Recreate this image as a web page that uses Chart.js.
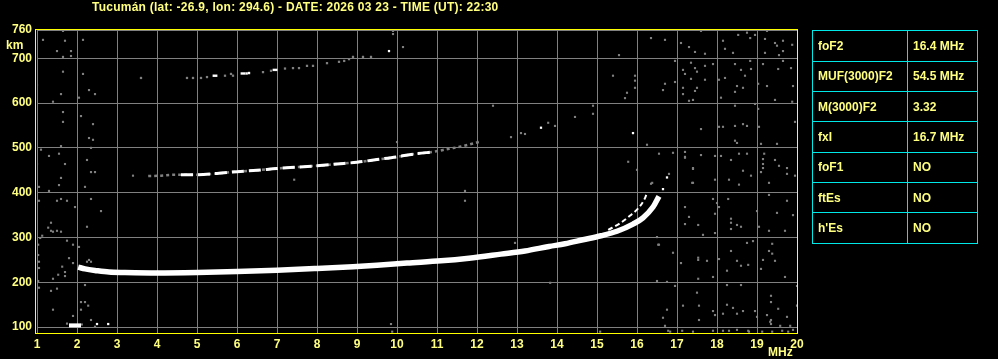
<!DOCTYPE html>
<html><head><meta charset="utf-8">
<script src="https://cdn.jsdelivr.net/npm/chart.js@4.4.0/dist/chart.umd.min.js"></script>
<style>
html,body{margin:0;padding:0;background:#000;width:998px;height:359px;overflow:hidden;}
#wrap{position:relative;width:998px;height:359px;background:#000;}
#c{position:absolute;left:0;top:0;}
.t{position:absolute;font-family:"Liberation Sans",Arial,sans-serif;font-weight:bold;font-size:12px;line-height:12px;color:#ffff80;white-space:nowrap;}
#tbl{position:absolute;left:812px;top:30px;width:166px;height:214px;box-sizing:border-box;border:1px solid #00e8e8;}
.hl{position:absolute;left:0;width:164px;height:1px;background:#00e8e8;}
.vl{position:absolute;left:94px;top:0;width:1px;height:212px;background:#00e8e8;}
.cell{position:absolute;font-family:"Liberation Sans",Arial,sans-serif;font-weight:bold;font-size:12px;line-height:12px;color:#ffff80;white-space:nowrap;}
</style></head>
<body><div id="wrap">
<canvas id="c" width="998" height="359"></canvas>
<div class="t" id="title" style="left:92px;top:0.5px;letter-spacing:0.25px;"></div>
<div class="t" style="left:6px;top:38.5px;">km</div>
<div class="t" style="left:768px;top:346px;">MHz</div>
<div id="tbl"></div>
</div>
<script>
// ---------- text ----------
const titleText = "Tucumán (lat: -26.9, lon: 294.6) - DATE: 2026 03 23 - TIME (UT): 22:30";
const tableLabels = ["foF2", "MUF(3000)F2", "M(3000)F2", "fxI", "foF1", "ftEs", "h'Es"];
const tableValues = ["16.4 MHz", "54.5 MHz", "3.32", "16.7 MHz", "NO", "NO", "NO"];

// ---------- axes ----------
const freqTicks = [1,2,3,4,5,6,7,8,9,10,11,12,13,14,15,16,17,18,19,20];
const heightTicks = [100,200,300,400,500,600,700];
const heightTopLabel = 760;

// ---------- ordinary F2 trace (MHz, km) ----------
const oTraceF = [2.03,2.2,2.5,2.8,3.2,4.0,5.0,6.0,7.0,8.0,8.9,9.5,10.25,11.1,11.8,12.6,13.2,13.8,14.2,14.65,15.1,15.5,15.9,16.15,16.4,16.55];
const oTraceH = [234,230,226,223,222,221,222,224,227,231,235,238,243,248,254,263,270,280,286,295,304,314,330,344,368,392];

// ---------- extraordinary trace ----------
const xTraceF = [15.28,15.58,15.83,16.03,16.2,16.25];
const xTraceH = [317,332,349,365,388,400];

// ---------- second hop ----------
const hop2F = [3.78,4.1,4.45,4.95,5.5,6.0,6.5,7.0,7.5,8.0,8.5,9.0,9.5,10.0,10.4,10.9,11.3,11.6,12.08];
const hop2H = [437,438,440,440,443,447,450,454,457,460,464,468,474,480,486,491,498,503,514];
const hop2WhiteF = [4.6,4.95,5.5,6.0,6.5,7.0,7.5,8.0,8.5,9.0,9.5,10.0,10.4,10.9];
const hop2WhiteH = [440,440,443,447,450,454,457,460,464,468,474,480,486,491];

// ---------- third hop ----------
const hop3F = [3.6,4.75,4.9,5.1,5.25,5.7,5.85,5.9,6.65,6.85,7.2,7.4,7.55,7.75,7.9,8.25,8.55,8.68,8.8,8.9,9.15,9.35];
const hop3H = [656,656,656,656,658,661,665,661,669,672,677,678,678,683,683,689,692,694,698,703,703,703];
const hop3WhiteF = [5.42,5.48,6.12,6.18,6.24,6.3,6.92,6.98];
const hop3WhiteH = [661,661,666,666,666,667,674,674];

// ---------- E echo and isolated white dots ----------
const eLayerF = [1.8,2.1];
const eLayerH = [104,104];
const whiteDotF = [2.5,2.78,16.65,16.75,9.8,13.6,15.9];
const whiteDotH = [107,107,408,434,716,545,533];

// ---------- grey interference dots ----------
const noiseF = [16.35,16.7,17.1,17.3,17.45,17.7,17.6,18.15,18.2,18.4,18.53,18.75,18.83,18.95,19.2,19.25,19.45,19.5,19.65,19.65,19.88,19.2,19.55,
16.95,17.35,17.7,17.9,17.15,17.45,17.5,17.2,17.35,17.7,18.05,18.2,18.45,18.6,18.83,18.85,18.7,19.15,19.53,19.65,19.85,16.7,16.65,16.95,17.15,17.15,17.45,17.5,17.3,17.4,18.1,18.45,18.5,18.65,19.03,19.25,19.45,19.88,19.9,
18.45,18.95,19.03,17.6,18.05,18.15,18.45,18.65,18.75,19.05,18.45,18.5,19.95,16.25,19.5,19.1,
16.55,16.9,17.2,17.2,17.6,17.95,18.1,18.35,18.55,18.75,19.18,19.15,19.15,19.15,19.45,19.55,19.75,19.75,19.95,17.4,18.65,18.85,19.1,16.8,
16.35,17.38,17.95,18.3,18.55,19.3,19.3,19.75,17.9,18.28,18.0,18.05,17.95,17.2,17.3,17.2,17.53,18.35,18.35,18.5,18.6,18.35,19.0,19.5,19.9,19.05,19.3,19.7,17.95,17.65,16.5,16.55,16.9,17.1,17.53,17.75,18.05,18.35,18.5,18.6,18.78,18.75,18.9,19.15,19.1,19.38,19.38,19.45,19.3,19.7,18.25,17.9,17.53,16.5,16.75,16.95,18.25,18.6,20.0,17.5,17.15,16.75,16.65,17.55,17.55,17.9,17.95,18.15,18.25,18.4,18.5,18.65,18.95,19.0,19.25,19.35,19.35,19.35,19.35,19.53,19.75,20.0,
16.7,16.78,17.13,17.4,17.9,18.15,18.3,18.78,19.13,19.38,19.58,19.63,19.78,19.9,16.83,18.5,18.8,19.33,19.83,15.08,9.85,9.88,
1.65,1.15,1.7,2.15,1.5,1.85,1.65,1.85,1.65,2.15,2.3,2.45,2.05,1.6,1.4,1.0,1.65,2.1,1.65,2.4,2.3,2.4,1.6,2.35,1.1,1.3,1.55,1.0,1.7,2.25,2.35,2.45,3.4,1.6,1.55,1.05,1.3,2.2,1.05,1.5,1.6,1.75,2.35,1.95,2.6,1.35,2.25,
1.08,1.13,1.75,1.9,2.05,1.28,1.35,1.4,1.5,1.6,1.03,1.03,1.05,1.05,1.63,1.7,1.8,1.9,1.7,1.53,1.4,1.03,1.05,1.35,1.5,2.2,2.1,2.2,2.28,2.1,1.4,2.35,1.9,2.45,2.25,2.3,2.35,1.75,2.12,
10.15,9.9,9.9,15.55,15.4,15.95,15.95,15.95,15.75,15.7,12.4,14.9,14.9,14.45,13.78,13.95,13.1,12.85,13.2,10.0,
15.78,16.0,17.2,17.4,17.4,16.38,17.53,16.53,13.83,11.7,11.7,12.95,7.43];
const noiseH = [745,741,734,725,714,710,761,739,721,712,752,757,745,752,743,761,734,728,716,739,730,712,707,
694,690,683,687,674,678,670,665,654,652,652,656,687,674,694,676,661,687,676,694,678,643,629,647,634,620,627,634,605,607,612,625,638,634,643,638,607,603,638,
594,598,587,542,547,547,549,553,549,547,516,511,558,507,509,509,
487,489,491,478,484,482,482,473,487,487,487,475,464,455,473,460,455,442,438,453,449,438,446,442,
420,422,429,429,418,422,395,382,386,386,377,368,353,368,346,330,328,342,333,328,324,319,359,355,350,324,315,315,310,306,301,284,266,243,250,248,252,270,248,237,239,288,292,250,230,286,264,248,270,212,226,212,208,203,201,192,194,194,192,177,148,139,121,148,116,136,127,130,150,143,130,136,136,123,127,170,156,116,107,141,123,148,
103,92,92,90,92,92,92,92,90,90,103,92,90,94,90,94,90,112,103,90,107,90,
761,741,739,741,716,716,703,705,670,665,629,620,612,620,603,640,580,571,558,553,522,518,504,500,496,482,487,464,464,473,446,446,438,433,417,413,404,413,382,382,386,382,386,368,359,333,324,
299,304,293,284,279,322,315,313,315,313,284,261,246,232,235,223,254,243,214,217,208,203,188,181,186,194,156,156,148,139,139,116,125,101,246,250,246,108,106,
725,761,754,707,661,661,650,634,623,611,594,594,576,569,556,549,533,524,531,513,
469,451,480,455,422,422,255,284,199,404,382,288,429];

// ---------- build ----------
const pts = (fs, hs) => fs.map((f, i) => ({ x: f, y: hs[i] }));
document.getElementById('title').textContent = titleText;

const tbl = document.getElementById('tbl');
const rowH = 212 / tableLabels.length;
let html = '<div class="vl"></div>';
tableLabels.forEach((lab, i) => {
  const top = i * rowH;
  if (i > 0) html += `<div class="hl" style="top:${(top - 0.5).toFixed(1)}px"></div>`;
  const ty = top + rowH / 2 - 6;
  html += `<div class="cell" style="left:5px;top:${ty.toFixed(1)}px">${lab}</div>`;
  html += `<div class="cell" style="left:100px;top:${ty.toFixed(1)}px">${tableValues[i]}</div>`;
});
tbl.innerHTML = html;

const Y_MIN = 87, Y_MAX = 763;

const framePlugin = {
  id: 'frame',
  afterDraw(chart) {
    const { ctx, chartArea: a } = chart;
    ctx.save();
    ctx.strokeStyle = '#ffff00';
    ctx.lineWidth = 1;
    ctx.strokeRect(Math.round(a.left) - 1.5, Math.round(a.top) - 0.5, Math.round(a.right - a.left) + 2, Math.round(a.bottom - a.top) + 1);
    ctx.restore();
  }
};

const tickFont = { family: '"Liberation Sans", Arial, sans-serif', weight: 'bold', size: 12 };

new Chart(document.getElementById('c'), {
  type: 'scatter',
  data: {
    datasets: [
      { data: pts(whiteDotF, whiteDotH), pointStyle: 'rect', pointRadius: 1.6, backgroundColor: '#ffffff', borderWidth: 0, showLine: false },
      { data: pts(oTraceF, oTraceH), showLine: true, borderColor: '#ffffff', borderWidth: 5.5, pointRadius: 0, cubicInterpolationMode: 'monotone' },
      { data: pts(xTraceF, xTraceH), showLine: true, borderColor: '#ffffff', borderWidth: 2, borderDash: [5, 3], pointRadius: 0, cubicInterpolationMode: 'monotone' },
      { data: pts(eLayerF, eLayerH), showLine: true, borderColor: '#ffffff', borderWidth: 4, pointRadius: 0 },
      { data: pts(hop2WhiteF, hop2WhiteH), showLine: true, borderColor: '#ffffff', borderWidth: 3, borderDash: [12, 5], pointRadius: 0, cubicInterpolationMode: 'monotone' },
      { data: pts(hop2F, hop2H), showLine: true, borderColor: '#808080', borderWidth: 2.5, borderDash: [3, 3], pointRadius: 0, cubicInterpolationMode: 'monotone' },
      { data: pts(hop3WhiteF, hop3WhiteH), pointStyle: 'rect', pointRadius: 1.7, backgroundColor: '#ffffff', borderWidth: 0, showLine: false },
      { data: pts(hop3F, hop3H), pointStyle: 'rect', pointRadius: 1.6, backgroundColor: '#808080', borderWidth: 0, showLine: false },
      { data: pts(noiseF, noiseH), pointStyle: 'rect', pointRadius: 1.5, backgroundColor: '#808080', borderWidth: 0, showLine: false }
    ]
  },
  options: {
    responsive: false,
    animation: false,
    devicePixelRatio: 1,
    events: [],
    layout: { padding: { top: 30, right: 201, bottom: 0, left: 0 } },
    plugins: { legend: { display: false }, tooltip: { enabled: false }, title: { display: false } },
    scales: {
      x: {
        type: 'linear', min: 1, max: 20,
        afterBuildTicks: s => { s.ticks = freqTicks.map(v => ({ value: v })); },
        afterFit: s => { s.height = 26; },
        grid: { color: '#808080', lineWidth: 1, drawTicks: false },
        border: { display: false },
        ticks: { color: '#ffff80', font: tickFont, padding: 4, maxRotation: 0, autoSkip: false }
      },
      y: {
        type: 'linear', min: Y_MIN, max: Y_MAX,
        afterBuildTicks: s => { s.ticks = heightTicks.map(v => ({ value: v })).concat([{ value: Y_MAX }]); },
        afterFit: s => { s.width = 37; },
        grid: { color: '#808080', lineWidth: 1, drawTicks: false },
        border: { display: false },
        ticks: { color: '#ffff80', font: tickFont, padding: 5, autoSkip: false,
          callback: v => (v === Y_MAX ? String(heightTopLabel) : String(v)) }
      }
    }
  },
  plugins: [framePlugin]
});
</script>
</body></html>
